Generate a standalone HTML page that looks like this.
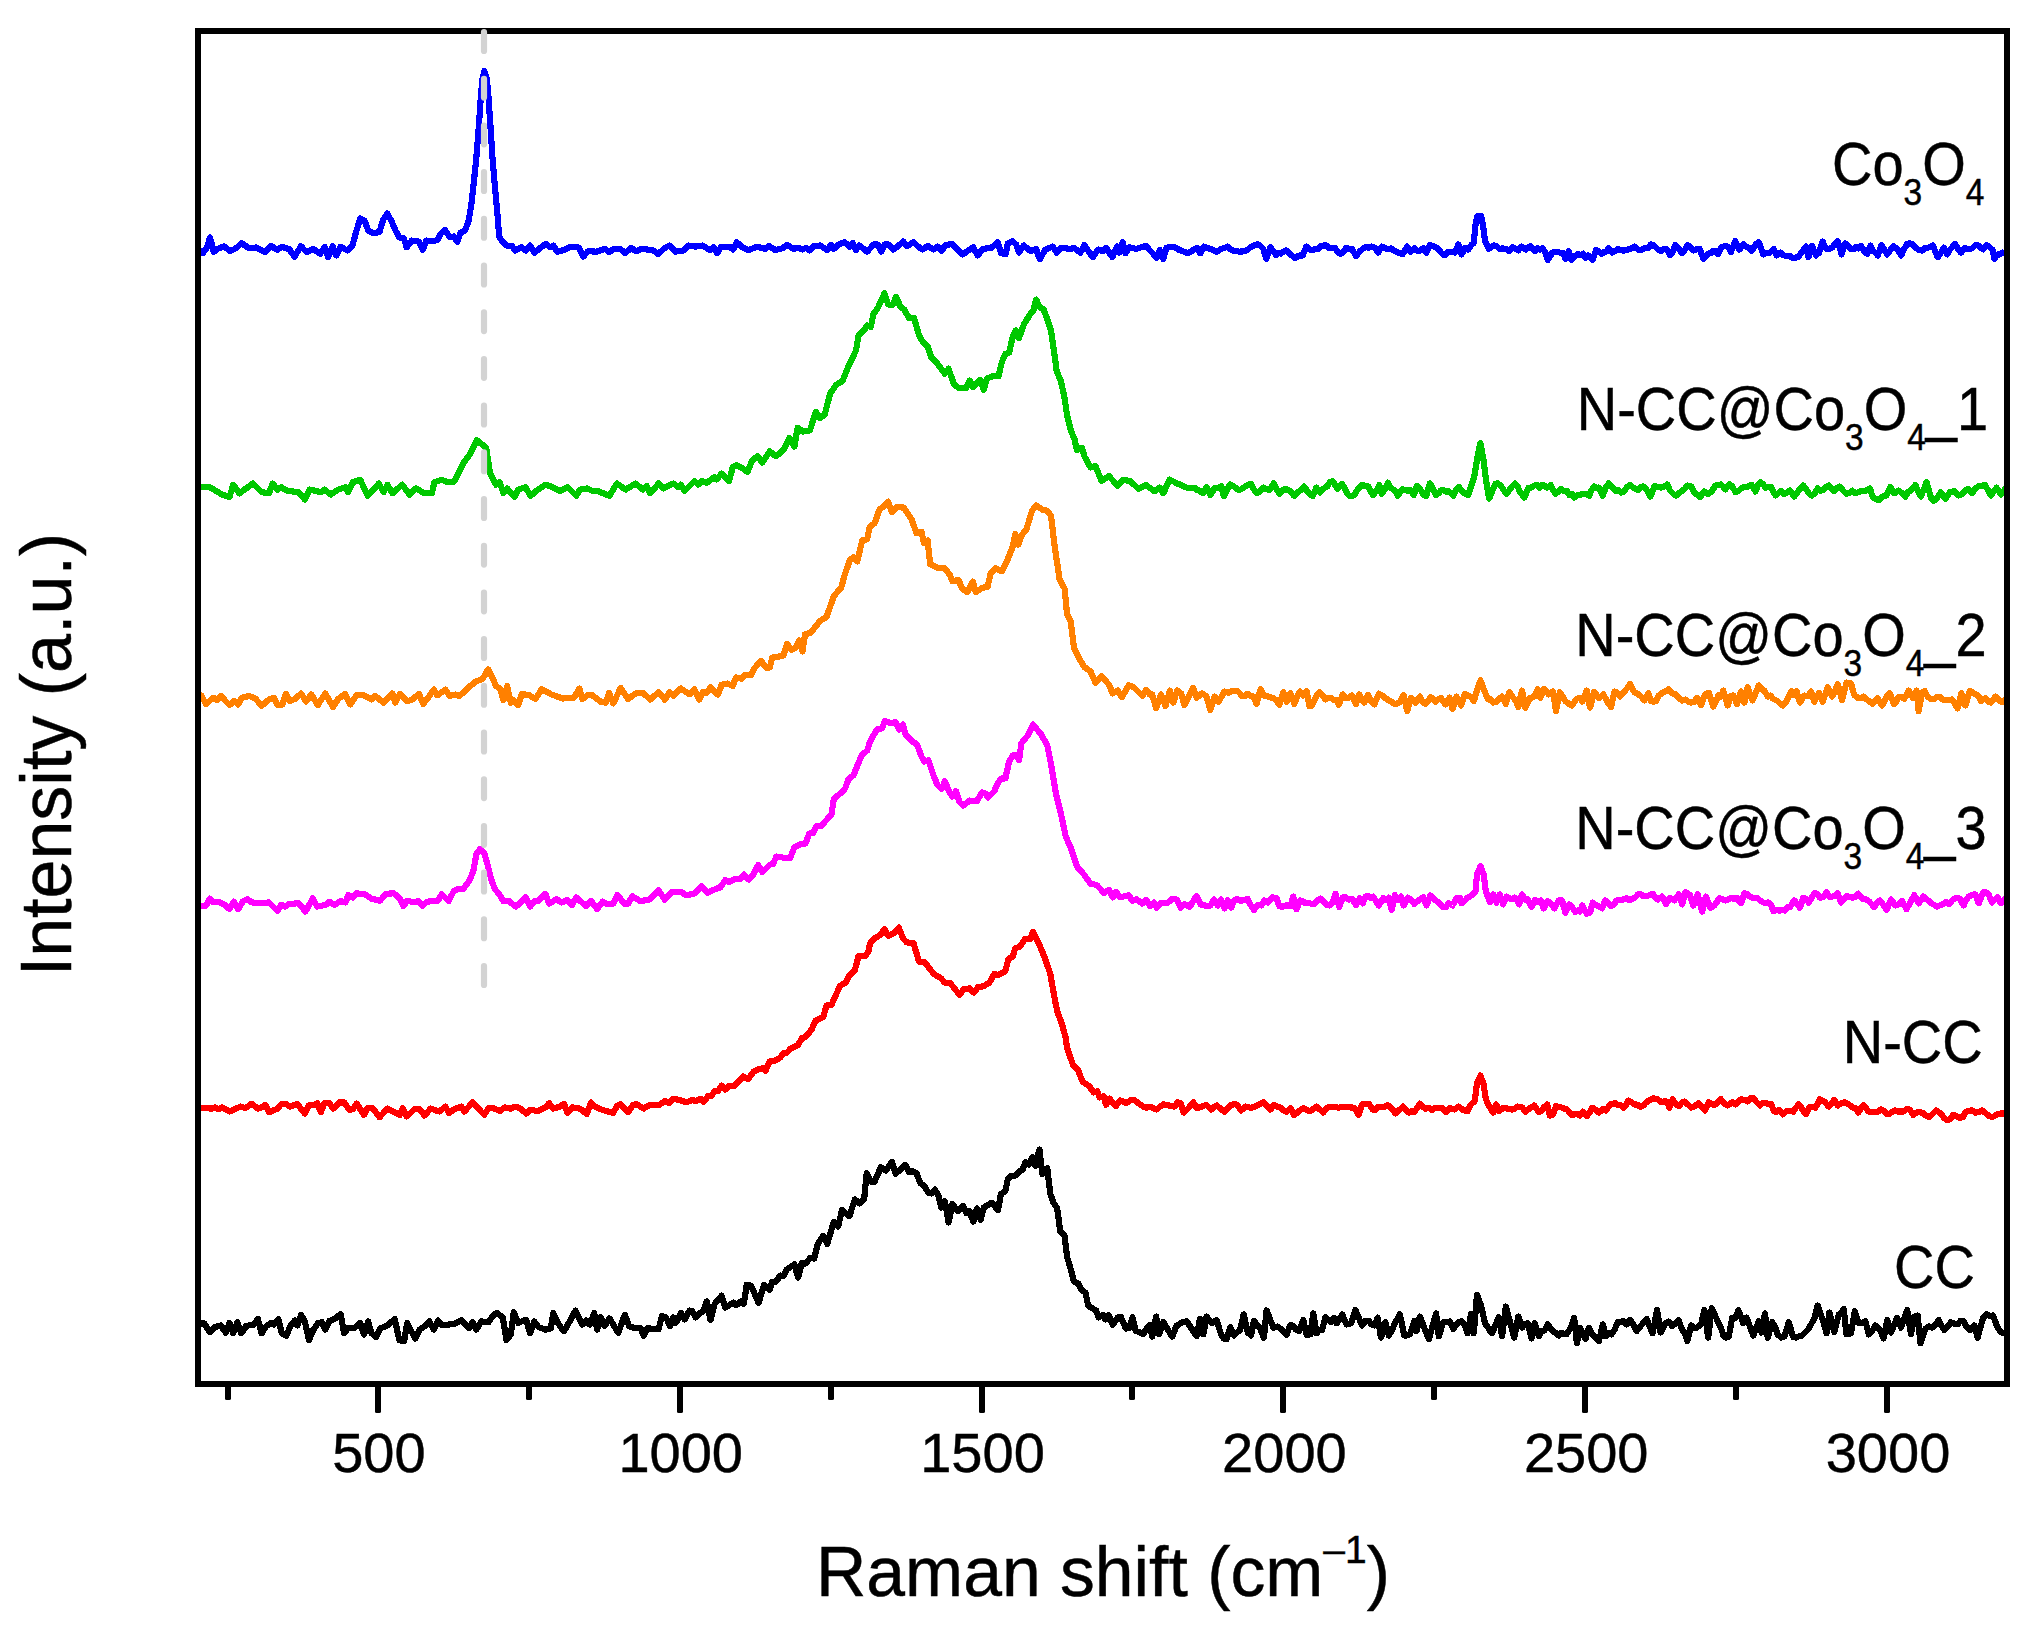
<!DOCTYPE html>
<html><head><meta charset="utf-8"><title>Raman spectra</title>
<style>
html,body{margin:0;padding:0;background:#fff;}
svg{display:block;}
text{font-family:"Liberation Sans",Arial,sans-serif;fill:#000;stroke:#000;stroke-width:0.45px;}
</style></head>
<body>
<svg width="2026" height="1631" viewBox="0 0 2026 1631">
<rect x="0" y="0" width="2026" height="1631" fill="#fff"/>
<g id="curves" shape-rendering="crispEdges">
<polyline points="198.0,1323.4 204.3,1323.4 209.7,1332.0 214.7,1327.1 220.8,1325.4 225.8,1332.8 229.5,1322.9 233.2,1333.3 237.4,1322.2 241.3,1333.3 246.3,1325.9 253.7,1324.6 257.9,1319.0 261.6,1333.3 266.5,1325.9 271.4,1322.9 273.9,1324.6 278.4,1319.0 281.8,1333.3 286.2,1335.7 291.2,1324.6 294.9,1320.4 297.4,1325.4 301.1,1314.8 304.8,1321.4 309.0,1340.2 313.4,1329.6 318.3,1322.9 322.0,1322.2 325.2,1329.6 329.4,1320.9 335.6,1318.5 340.5,1314.0 344.2,1333.3 347.9,1328.3 354.1,1328.3 360.3,1322.9 364.0,1334.5 368.2,1321.4 371.4,1333.3 376.3,1337.0 380.5,1328.3 387.4,1325.4 394.8,1319.0 399.3,1340.2 404.2,1341.2 407.2,1322.9 415.1,1338.7 419.5,1329.6 424.5,1326.4 429.4,1321.4 433.8,1329.6 438.0,1320.4 442.2,1325.4 454.1,1323.9 461.5,1320.4 468.9,1328.3 472.6,1322.2 476.3,1329.6 481.2,1321.4 488.6,1322.2 493.6,1314.8 497.3,1313.0 502.9,1318.0 506.4,1340.2 510.8,1334.5 513.8,1312.3 518.2,1322.9 521.9,1321.4 526.1,1319.7 530.1,1333.3 534.3,1321.4 538.5,1327.1 545.4,1329.6 550.8,1328.3 553.3,1313.0 557.7,1322.9 563.9,1331.3 568.8,1322.9 575.5,1310.6 582.4,1324.6 586.1,1320.4 589.8,1324.6 594.2,1313.0 597.2,1329.6 600.9,1317.2 604.6,1325.9 609.5,1318.5 618.2,1332.8 624.8,1314.8 629.3,1326.4 635.5,1328.3 640.4,1327.8 643.6,1335.7 647.1,1328.3 650.0,1328.5 658.6,1329.3 661.8,1316.2 666.0,1317.4 670.2,1326.1 673.4,1317.4 675.9,1322.9 680.8,1313.0 684.6,1319.4 689.5,1310.5 692.4,1311.3 695.7,1317.4 700.6,1312.5 703.1,1311.3 706.8,1301.4 710.5,1319.9 714.7,1303.9 721.6,1295.7 725.3,1307.6 730.2,1304.6 733.4,1302.6 736.4,1305.1 740.8,1301.4 743.8,1303.9 746.7,1284.9 751.2,1285.8 758.6,1303.1 764.0,1284.9 769.7,1289.8 772.2,1281.6 775.9,1281.6 780.3,1275.5 783.3,1276.0 787.0,1269.3 794.4,1264.4 798.1,1277.5 801.8,1263.1 805.5,1263.6 810.4,1257.7 814.1,1258.7 817.8,1243.9 823.2,1236.0 827.2,1243.9 833.9,1221.7 838.1,1226.6 842.0,1210.1 849.4,1216.2 854.8,1199.5 859.8,1203.4 864.2,1198.5 866.7,1173.1 870.9,1181.7 874.6,1181.7 880.8,1167.4 885.7,1170.6 891.9,1162.0 895.6,1173.8 905.4,1164.9 909.1,1172.3 912.8,1171.3 916.5,1173.1 920.2,1182.9 924.4,1186.1 928.4,1192.8 931.8,1193.5 935.0,1189.6 938.7,1196.5 941.2,1207.6 944.9,1201.4 948.6,1222.4 952.3,1203.9 958.0,1211.3 962.9,1205.9 966.4,1213.3 969.6,1211.3 973.3,1221.7 977.0,1208.4 980.7,1220.0 983.7,1207.6 991.8,1202.7 998.0,1210.1 1000.9,1194.0 1005.4,1191.1 1007.8,1179.2 1010.8,1176.3 1015.3,1175.5 1019.7,1171.3 1022.7,1169.4 1025.6,1162.0 1028.8,1164.4 1032.5,1157.0 1035.5,1165.7 1039.4,1149.6 1042.4,1174.3 1047.3,1168.1 1050.3,1194.0 1053.5,1202.7 1057.2,1208.4 1060.2,1231.1 1064.6,1236.0 1067.1,1257.0 1070.8,1269.3 1074.0,1281.6 1078.2,1283.4 1081.9,1290.3 1085.6,1292.8 1088.1,1305.6 1091.8,1308.1 1096.2,1310.5 1098.7,1317.4 1102.9,1315.0 1105.3,1319.4 1108.5,1315.0 1112.7,1324.8 1117.7,1317.4 1120.9,1316.9 1125.8,1328.5 1129.3,1327.8 1132.5,1317.4 1135.7,1331.0 1139.9,1332.2 1143.1,1334.2 1145.8,1330.0 1148.5,1326.1 1150.0,1324.8 1152.2,1336.6 1156.2,1316.6 1158.9,1334.4 1163.3,1322.2 1172.2,1336.6 1176.6,1325.5 1179.1,1324.4 1181.6,1322.4 1184.1,1321.9 1186.6,1321.1 1196.6,1336.2 1200.0,1318.8 1203.3,1334.4 1206.6,1316.6 1209.4,1320.4 1212.2,1323.3 1216.6,1320.0 1221.1,1334.4 1223.8,1338.5 1226.6,1339.3 1230.4,1327.3 1234.0,1335.5 1237.0,1332.3 1240.0,1330.0 1243.7,1314.4 1247.7,1332.6 1251.1,1335.5 1253.9,1321.1 1256.9,1324.4 1259.9,1327.7 1263.9,1337.7 1266.6,1310.4 1273.3,1327.7 1277.7,1326.6 1280.7,1328.8 1283.6,1332.2 1286.6,1334.8 1289.9,1325.5 1292.9,1325.6 1295.9,1329.7 1298.8,1331.1 1303.3,1320.0 1306.6,1334.8 1310.4,1334.4 1313.3,1313.3 1316.6,1333.3 1319.4,1329.7 1322.1,1330.0 1325.5,1317.1 1328.2,1319.5 1331.0,1321.9 1333.8,1317.8 1336.6,1323.3 1339.4,1319.6 1342.1,1314.4 1346.6,1324.4 1351.0,1323.3 1355.5,1310.0 1362.1,1325.5 1365.5,1320.6 1368.4,1320.6 1371.4,1324.1 1374.3,1325.5 1377.7,1317.7 1381.0,1337.7 1385.4,1322.2 1388.8,1335.5 1392.1,1329.9 1395.4,1322.2 1399.9,1314.4 1404.3,1335.5 1407.1,1335.4 1409.9,1334.4 1414.3,1321.1 1416.5,1331.1 1419.9,1316.6 1428.8,1339.3 1436.1,1313.3 1438.8,1336.2 1443.2,1322.2 1446.5,1322.4 1449.9,1321.5 1453.2,1328.8 1456.2,1324.9 1459.1,1321.7 1462.1,1321.5 1464.9,1325.0 1467.6,1333.3 1471.0,1314.0 1473.8,1333.3 1477.0,1294.9 1481.0,1305.5 1485.0,1323.3 1487.3,1326.5 1489.7,1330.3 1492.1,1333.3 1498.7,1317.1 1502.1,1336.2 1505.8,1306.6 1514.3,1337.7 1518.3,1316.6 1522.0,1327.7 1524.8,1324.1 1527.6,1323.3 1531.6,1338.4 1534.7,1323.3 1538.7,1336.2 1541.7,1331.1 1544.6,1330.3 1547.6,1324.4 1550.4,1328.2 1553.1,1331.4 1555.9,1332.9 1558.7,1335.5 1561.3,1332.8 1563.9,1334.3 1566.5,1334.4 1570.9,1327.7 1574.2,1317.7 1576.9,1343.3 1580.0,1327.7 1582.8,1334.2 1585.5,1338.8 1588.9,1327.7 1592.2,1334.4 1595.5,1337.6 1598.9,1341.1 1602.9,1324.4 1605.5,1336.2 1608.5,1333.4 1611.5,1334.4 1614.4,1330.0 1617.8,1322.2 1620.5,1322.0 1623.3,1321.1 1626.6,1324.4 1630.0,1320.0 1633.3,1324.3 1636.6,1331.1 1641.1,1325.5 1643.9,1322.3 1646.6,1318.8 1652.6,1333.3 1657.1,1310.0 1660.6,1332.6 1663.1,1328.2 1665.5,1323.3 1668.8,1321.6 1672.2,1326.0 1675.3,1323.9 1678.4,1320.0 1682.2,1330.0 1684.7,1332.4 1687.3,1341.1 1691.1,1325.5 1693.8,1327.8 1696.6,1327.7 1701.1,1324.4 1704.4,1310.0 1708.2,1337.7 1711.7,1308.2 1714.2,1313.6 1716.6,1318.8 1721.0,1327.7 1723.6,1336.2 1726.2,1337.6 1728.8,1336.6 1732.2,1317.7 1735.3,1317.8 1738.4,1310.4 1740.8,1316.3 1743.3,1323.3 1746.6,1317.7 1753.3,1335.5 1758.8,1321.1 1761.5,1332.6 1765.0,1313.3 1767.7,1337.7 1772.1,1322.2 1774.9,1326.4 1777.7,1334.4 1781.0,1337.5 1784.3,1336.6 1788.8,1322.2 1793.2,1337.1 1796.2,1337.6 1799.2,1336.2 1802.1,1335.5 1805.5,1332.1 1808.8,1328.8 1811.6,1323.3 1814.3,1318.8 1817.7,1305.5 1822.8,1320.0 1826.6,1333.3 1829.4,1312.6 1834.3,1332.2 1838.8,1314.4 1841.2,1313.8 1843.7,1308.9 1846.5,1334.4 1851.0,1333.3 1854.8,1311.1 1858.8,1323.3 1862.1,1323.1 1865.4,1321.1 1868.8,1334.4 1872.1,1330.9 1875.4,1325.5 1879.9,1329.5 1883.6,1338.4 1887.2,1320.0 1891.0,1332.6 1897.0,1317.7 1901.0,1327.7 1907.2,1310.0 1911.0,1334.4 1914.3,1316.6 1917.6,1315.5 1920.5,1343.3 1925.4,1328.8 1928.7,1326.4 1932.1,1327.7 1935.4,1325.1 1938.7,1320.0 1941.5,1325.7 1944.3,1330.0 1947.6,1326.9 1950.9,1322.2 1954.3,1323.7 1957.6,1324.4 1960.4,1320.9 1963.2,1320.6 1966.5,1326.7 1969.8,1330.0 1974.3,1325.5 1977.6,1337.7 1983.1,1317.7 1986.5,1314.0 1989.8,1316.1 1993.1,1315.5 1997.6,1327.7 2001.4,1332.6 2007.0,1332.6" fill="none" stroke="#000000" stroke-width="6.2" stroke-linejoin="round" stroke-linecap="butt"/>
<polyline points="198.0,1108.1 204.8,1108.1 212.2,1108.6 214.7,1107.4 218.4,1109.1 222.1,1107.4 229.5,1111.5 240.6,1106.6 245.5,1108.1 251.7,1103.7 257.9,1108.6 261.6,1107.4 265.3,1104.9 269.0,1112.3 277.6,1108.6 281.3,1104.1 286.2,1104.1 290.0,1106.6 297.4,1104.1 304.8,1113.5 308.5,1105.6 314.6,1104.9 317.1,1103.2 320.8,1112.3 324.5,1103.2 329.4,1103.2 333.1,1108.6 339.3,1102.4 344.2,1102.4 349.2,1109.8 352.9,1109.1 356.6,1103.7 364.0,1114.8 367.7,1108.1 372.6,1108.1 379.5,1117.2 387.4,1108.6 399.8,1114.8 402.7,1108.1 406.7,1116.5 414.6,1109.1 419.5,1109.1 424.5,1115.5 430.6,1108.6 439.3,1111.5 445.4,1106.6 449.1,1113.0 454.6,1109.1 461.5,1106.6 464.4,1111.5 472.6,1102.4 484.2,1114.8 488.6,1108.1 493.6,1108.1 499.7,1111.1 504.7,1107.4 510.8,1108.6 515.3,1106.6 520.7,1108.6 526.1,1113.5 530.6,1109.8 538.0,1111.1 545.4,1107.4 549.1,1103.2 553.3,1108.6 560.2,1106.6 563.9,1103.7 567.6,1113.0 572.0,1107.4 579.9,1108.6 586.8,1114.0 591.0,1102.4 594.7,1106.6 602.1,1109.8 613.2,1113.0 616.9,1106.1 620.7,1104.1 628.1,1112.3 633.0,1104.9 636.7,1104.1 643.6,1108.6 649.5,1105.1 658.6,1105.3 664.8,1101.1 669.2,1102.9 673.4,1098.7 680.8,1100.4 686.5,1102.4 692.0,1099.9 695.7,1101.1 700.6,1098.7 703.8,1101.9 708.0,1096.2 711.2,1096.2 714.7,1091.3 717.9,1091.3 721.6,1085.6 725.3,1089.5 729.0,1085.6 733.9,1086.3 738.8,1081.4 743.3,1076.5 748.2,1078.9 753.7,1071.5 758.6,1069.1 762.3,1068.3 765.5,1070.8 769.7,1061.6 775.9,1060.4 780.3,1057.5 783.3,1053.5 787.0,1052.5 790.7,1048.6 798.1,1045.1 801.8,1038.2 805.5,1037.0 811.6,1029.6 815.8,1020.4 823.2,1017.2 826.5,1005.6 831.4,1004.9 840.0,985.9 845.5,982.7 848.7,976.5 854.8,970.3 858.5,956.3 864.7,956.3 868.4,951.8 870.1,943.2 874.6,938.3 880.8,934.6 884.5,929.1 888.2,935.8 893.8,933.3 898.8,927.6 903.0,938.3 906.7,942.4 913.6,943.2 919.0,961.7 924.4,961.7 933.8,974.0 941.2,978.5 944.9,982.7 949.9,982.7 959.7,995.0 963.4,989.3 969.6,988.4 973.8,992.5 978.2,986.9 983.2,986.4 989.3,982.7 994.3,974.0 998.0,975.3 1005.4,971.1 1008.3,959.2 1012.8,956.3 1015.3,948.1 1019.7,946.9 1025.1,939.0 1030.1,939.0 1033.0,932.1 1038.7,943.2 1044.9,958.0 1050.3,974.0 1054.7,998.7 1057.2,1011.1 1062.1,1024.6 1065.8,1038.2 1067.1,1048.1 1073.2,1065.4 1078.2,1070.3 1082.4,1081.4 1089.3,1086.3 1093.7,1092.5 1097.2,1091.3 1099.7,1097.4 1103.6,1096.2 1106.1,1104.8 1109.5,1098.7 1115.9,1106.1 1120.1,1100.4 1126.3,1102.9 1131.2,1099.9 1134.9,1100.4 1138.0,1102.9 1141.1,1105.3 1143.6,1106.6 1146.1,1107.8 1150.0,1106.8 1153.3,1108.1 1156.7,1109.5 1160.0,1106.7 1163.3,1104.4 1165.9,1104.9 1168.5,1105.4 1171.1,1106.0 1174.4,1106.6 1177.8,1102.2 1180.6,1103.3 1183.8,1112.6 1186.3,1110.1 1188.9,1107.7 1193.3,1102.2 1196.6,1108.2 1199.1,1107.5 1201.6,1106.7 1204.1,1105.6 1206.6,1105.1 1211.1,1109.5 1213.9,1107.2 1216.6,1105.5 1219.2,1107.4 1221.8,1109.9 1224.4,1111.7 1227.7,1108.6 1231.1,1105.1 1233.6,1104.2 1236.2,1104.4 1238.6,1107.0 1241.1,1110.4 1245.5,1106.6 1248.1,1107.2 1250.7,1107.8 1253.3,1107.3 1256.1,1105.8 1258.8,1104.4 1263.3,1102.2 1265.6,1104.3 1268.0,1107.6 1270.4,1109.5 1273.9,1105.1 1276.3,1105.8 1278.7,1107.3 1281.0,1107.7 1283.8,1110.7 1286.6,1111.7 1290.4,1108.2 1293.9,1114.9 1296.4,1113.4 1298.8,1111.1 1303.3,1108.2 1306.4,1109.7 1309.5,1111.1 1312.8,1109.4 1316.1,1106.6 1318.5,1108.2 1320.9,1110.5 1323.2,1112.6 1326.0,1109.2 1328.8,1106.6 1331.3,1106.7 1333.8,1106.8 1336.3,1107.3 1338.8,1107.7 1343.2,1106.6 1346.0,1106.6 1348.8,1107.3 1351.6,1107.5 1354.3,1107.7 1358.8,1114.9 1362.1,1104.4 1365.5,1104.3 1368.8,1103.7 1372.6,1109.5 1375.4,1109.9 1378.2,1106.8 1381.0,1107.3 1384.3,1107.2 1387.7,1105.1 1390.3,1107.6 1392.8,1109.6 1395.4,1113.3 1398.0,1110.9 1400.6,1108.9 1403.2,1106.6 1406.0,1110.5 1408.8,1112.6 1411.5,1111.3 1414.3,1111.7 1417.1,1107.9 1419.9,1103.7 1422.6,1106.4 1425.4,1108.9 1428.8,1107.7 1432.1,1110.0 1434.9,1107.7 1437.6,1108.2 1442.1,1107.7 1445.9,1112.2 1449.9,1108.2 1454.3,1109.5 1458.7,1106.6 1463.2,1110.0 1467.6,1111.1 1471.0,1104.4 1474.7,1101.1 1477.0,1083.3 1480.5,1075.5 1483.6,1084.4 1485.8,1098.9 1488.7,1105.5 1493.2,1112.6 1496.1,1104.4 1499.2,1111.1 1502.3,1108.5 1505.4,1107.7 1508.7,1109.1 1512.1,1109.5 1514.8,1108.6 1517.6,1106.6 1522.0,1107.3 1525.4,1111.7 1529.8,1108.2 1534.3,1105.5 1538.7,1112.2 1541.2,1110.8 1543.6,1107.7 1547.1,1104.4 1549.8,1115.5 1553.1,1114.4 1556.0,1106.0 1558.5,1107.1 1560.9,1107.3 1563.7,1108.4 1566.5,1108.9 1569.2,1112.0 1572.0,1114.9 1576.5,1114.0 1580.0,1115.5 1582.9,1111.7 1586.7,1116.2 1589.4,1112.9 1592.2,1107.7 1595.5,1109.5 1598.9,1112.6 1603.3,1108.9 1606.0,1110.4 1610.0,1104.4 1612.8,1103.7 1615.5,1103.3 1618.1,1105.1 1620.7,1105.0 1623.3,1107.7 1625.8,1105.2 1628.2,1100.6 1631.3,1101.9 1634.4,1104.4 1637.4,1104.7 1640.3,1106.9 1643.3,1105.5 1646.1,1102.4 1648.9,1100.6 1653.3,1098.4 1657.7,1099.3 1661.1,1102.2 1663.8,1101.4 1666.6,1101.5 1669.5,1107.7 1672.6,1099.3 1675.7,1103.9 1678.8,1106.0 1681.6,1102.9 1684.4,1101.5 1687.7,1104.3 1691.1,1107.7 1693.6,1106.7 1696.2,1105.1 1698.8,1103.3 1701.9,1107.3 1705.1,1110.4 1708.8,1102.2 1711.6,1103.9 1714.4,1105.1 1717.5,1103.0 1720.6,1098.9 1723.9,1103.0 1727.3,1105.5 1729.7,1104.3 1732.2,1102.2 1735.5,1104.4 1738.3,1101.3 1741.0,1099.3 1744.4,1099.8 1747.7,1101.5 1750.5,1098.1 1753.3,1097.7 1756.6,1102.2 1759.9,1105.5 1762.7,1102.7 1765.5,1102.9 1768.2,1104.0 1771.0,1103.7 1773.9,1111.1 1776.4,1112.0 1778.8,1110.0 1782.8,1114.4 1786.6,1111.1 1789.9,1110.6 1793.2,1111.7 1796.0,1107.5 1798.8,1104.4 1801.2,1107.2 1803.5,1111.4 1805.9,1114.0 1809.4,1107.3 1812.4,1106.8 1815.4,1107.7 1819.9,1099.3 1824.3,1101.5 1828.8,1106.6 1831.6,1103.2 1834.3,1100.0 1837.7,1105.5 1841.0,1103.4 1844.3,1102.2 1847.3,1103.7 1850.3,1105.5 1852.9,1107.7 1855.4,1107.7 1858.3,1112.6 1861.0,1108.1 1863.6,1105.1 1866.2,1108.5 1868.8,1111.7 1872.1,1112.2 1875.4,1112.2 1878.2,1111.5 1881.0,1109.5 1883.7,1110.7 1886.5,1114.0 1889.5,1113.7 1892.4,1111.9 1895.4,1110.4 1898.0,1111.6 1900.6,1111.4 1903.2,1111.7 1906.5,1109.3 1909.8,1109.5 1913.2,1114.9 1916.0,1112.8 1918.7,1111.7 1923.2,1113.3 1926.3,1115.8 1929.4,1117.1 1932.7,1113.8 1936.1,1110.4 1938.7,1112.1 1941.4,1114.0 1944.3,1118.4 1947.2,1120.0 1950.2,1119.2 1953.2,1114.9 1956.5,1116.3 1959.8,1117.7 1962.8,1117.1 1965.8,1111.7 1968.7,1111.1 1972.0,1110.2 1975.4,1112.6 1978.7,1112.2 1982.0,1110.4 1984.6,1112.2 1987.1,1114.4 1989.6,1116.2 1992.0,1117.1 1994.8,1115.9 1997.6,1114.0 2000.4,1113.6 2003.1,1113.3 2006.5,1115.5 2007.0,1115.5" fill="none" stroke="#ff0000" stroke-width="6.2" stroke-linejoin="round" stroke-linecap="butt"/>
<polyline points="198.0,905.6 206.0,905.6 209.7,898.7 213.4,902.4 218.4,901.7 224.6,904.9 229.5,909.1 233.9,901.7 238.1,909.1 243.1,901.2 247.3,899.2 251.7,902.4 260.3,903.2 269.0,902.4 273.9,907.4 277.6,910.6 281.3,904.9 285.0,906.6 288.7,904.1 298.6,903.2 305.5,911.5 312.9,898.2 317.1,906.6 325.7,904.9 329.4,901.7 334.4,904.9 340.5,901.2 345.5,902.4 348.4,895.0 352.9,897.5 356.6,893.3 365.2,894.3 371.4,898.7 380.0,900.7 386.2,893.8 393.6,893.3 399.8,898.2 403.5,906.1 407.2,900.7 414.1,902.4 418.3,901.2 422.5,905.6 426.9,901.7 438.0,900.7 441.7,894.3 448.6,901.2 453.6,891.3 457.8,889.3 463.4,888.8 468.9,881.4 473.3,871.6 476.3,854.3 480.0,848.9 484.2,853.1 487.4,864.2 491.1,879.0 494.8,888.8 499.7,895.0 503.4,901.2 508.4,900.7 515.8,906.6 520.7,902.4 525.6,897.5 530.1,906.6 534.3,901.2 538.5,900.7 545.4,893.8 549.1,903.7 556.5,899.2 561.4,902.4 567.6,900.0 572.0,904.9 576.2,897.5 586.1,906.1 591.0,900.7 597.2,909.1 602.6,901.7 607.1,904.1 613.2,903.7 617.4,895.0 624.4,903.7 628.1,903.7 632.3,896.2 640.4,901.2 650.3,899.2 658.6,890.4 664.8,899.8 672.2,891.9 682.1,892.4 685.8,895.3 694.4,893.6 701.8,886.2 707.3,892.9 714.7,889.4 720.3,887.4 725.3,880.0 729.0,882.0 735.1,878.8 740.1,878.8 743.8,874.6 748.7,879.5 753.7,873.9 758.1,865.2 762.3,872.1 769.7,864.7 772.9,864.0 776.4,856.6 784.5,857.8 790.2,857.8 794.4,847.5 800.5,844.2 805.5,843.5 809.2,833.6 812.9,833.1 816.6,826.2 820.8,826.2 831.4,814.6 833.9,798.6 840.0,793.7 845.0,788.7 848.7,778.8 853.6,775.1 858.5,762.8 862.2,754.7 867.2,750.5 870.1,741.3 877.0,729.5 882.0,728.3 884.9,720.8 890.6,723.3 895.6,722.1 899.3,729.5 903.0,724.6 905.4,734.4 912.8,741.8 917.0,744.3 921.5,756.6 924.4,761.6 928.4,760.3 933.8,776.4 937.5,785.0 941.7,788.7 944.9,781.3 949.1,791.2 952.3,796.6 956.0,791.2 959.7,802.3 963.4,805.5 969.6,800.6 977.0,801.1 981.9,792.4 985.6,793.7 988.1,797.4 994.3,791.2 998.0,782.5 1001.7,778.4 1005.4,778.4 1009.1,761.6 1012.8,755.4 1016.5,755.4 1019.0,760.3 1021.4,743.1 1027.6,735.7 1033.0,724.6 1041.2,734.4 1047.3,745.5 1051.0,764.0 1056.0,793.7 1060.9,813.4 1065.8,836.8 1070.8,847.9 1076.9,866.5 1084.4,875.1 1090.5,883.7 1096.7,885.0 1104.1,892.9 1109.0,889.9 1112.7,897.3 1115.9,891.9 1120.1,897.3 1128.8,895.3 1132.5,901.0 1136.2,899.3 1139.3,901.4 1142.3,903.5 1146.1,899.8 1150.0,905.9 1154.0,902.6 1156.7,907.7 1161.1,902.6 1163.9,903.3 1166.7,903.3 1169.4,901.3 1172.2,898.9 1176.6,899.5 1180.6,907.7 1184.4,904.0 1187.0,905.1 1189.5,907.1 1191.9,903.4 1194.3,899.1 1196.6,896.0 1200.6,904.4 1203.6,904.7 1206.6,906.2 1210.4,905.5 1214.0,899.5 1217.7,905.5 1221.1,899.5 1224.4,908.4 1227.7,900.4 1231.1,907.7 1234.4,900.0 1237.4,899.2 1240.3,900.8 1243.3,900.4 1247.7,898.9 1250.8,905.3 1253.9,910.0 1257.7,904.9 1261.5,905.5 1264.4,900.4 1267.7,902.6 1272.2,897.3 1276.6,898.2 1279.3,906.2 1282.4,906.7 1285.5,905.5 1287.9,905.6 1290.4,906.2 1293.3,896.6 1296.6,909.3 1299.9,900.4 1302.7,901.2 1305.5,903.3 1308.1,903.0 1310.7,903.6 1313.3,904.4 1317.7,900.0 1320.5,898.6 1323.2,901.1 1326.6,905.1 1329.9,905.5 1332.6,902.2 1335.5,893.7 1339.2,907.1 1342.8,897.3 1345.8,897.4 1348.8,899.5 1352.1,898.9 1356.1,904.9 1359.9,898.2 1362.8,903.3 1365.5,896.6 1368.0,896.0 1370.6,897.7 1373.2,896.6 1376.0,901.1 1378.8,905.5 1383.2,898.2 1386.0,900.1 1388.8,897.7 1391.7,910.0 1394.8,895.1 1398.3,900.0 1401.0,896.6 1403.7,905.5 1407.7,897.7 1411.0,899.5 1414.3,904.0 1418.8,900.0 1423.2,897.3 1426.5,905.5 1430.3,895.5 1432.9,897.4 1435.4,900.4 1438.0,902.0 1440.6,904.9 1443.2,907.1 1446.0,906.8 1448.7,903.3 1452.5,905.5 1456.5,898.2 1459.9,897.7 1461.4,903.3 1464.5,901.1 1467.6,897.7 1472.1,895.1 1475.4,892.2 1477.0,874.4 1480.5,866.2 1483.6,874.4 1485.8,891.1 1489.8,902.2 1493.2,894.4 1496.5,902.6 1499.8,894.4 1503.2,904.4 1506.5,896.6 1509.3,898.4 1512.1,898.9 1514.5,897.6 1516.9,899.5 1519.2,904.4 1522.0,894.4 1525.4,900.0 1528.0,899.5 1531.6,907.1 1534.7,900.0 1537.8,902.3 1540.9,900.4 1543.6,908.4 1547.6,901.1 1550.9,903.2 1554.3,908.4 1558.7,900.4 1562.0,900.4 1565.4,912.8 1569.4,904.4 1572.4,907.4 1575.4,912.2 1577.7,910.6 1580.0,911.5 1582.2,905.5 1586.7,913.7 1590.0,912.8 1592.7,902.6 1596.7,905.5 1599.4,906.5 1602.2,908.4 1605.1,900.4 1608.1,903.0 1611.1,906.2 1613.9,904.6 1616.6,900.4 1620.0,900.1 1623.3,899.5 1626.6,898.3 1630.0,900.4 1632.4,898.6 1634.9,897.7 1638.0,894.3 1641.1,894.4 1643.9,896.4 1646.6,896.0 1649.6,895.3 1652.6,893.7 1655.2,897.5 1657.7,899.5 1662.2,896.6 1666.0,904.0 1670.0,897.7 1674.4,900.4 1678.8,894.4 1682.2,904.4 1685.5,892.2 1689.9,895.1 1693.3,905.5 1697.7,894.4 1702.2,911.5 1705.9,896.6 1710.4,907.7 1714.4,905.5 1716.8,902.1 1719.3,898.2 1722.4,899.4 1725.5,900.4 1728.8,899.2 1732.2,897.7 1734.6,899.2 1737.0,898.2 1741.0,903.3 1744.4,893.3 1747.1,893.8 1749.9,896.6 1752.4,897.9 1754.8,897.7 1757.4,897.9 1759.9,900.4 1762.7,902.2 1765.5,903.3 1768.2,902.3 1771.0,904.4 1773.2,911.1 1776.6,910.2 1779.9,910.6 1782.4,909.9 1784.9,910.6 1787.4,907.2 1789.9,907.1 1794.3,900.4 1797.1,903.8 1799.9,907.7 1803.2,897.7 1806.0,899.0 1808.8,902.6 1811.6,898.1 1814.3,893.3 1817.1,893.6 1819.9,897.7 1823.2,897.0 1826.6,892.2 1829.3,896.7 1832.1,896.6 1834.9,895.7 1837.7,893.3 1841.0,902.6 1843.8,899.7 1846.5,896.0 1849.3,896.8 1852.1,897.7 1855.2,896.8 1858.3,893.7 1862.8,898.9 1865.8,899.5 1868.8,901.1 1871.5,904.0 1874.3,907.1 1877.1,902.9 1879.9,900.4 1883.2,904.6 1886.5,910.0 1891.0,899.5 1895.4,905.5 1898.7,904.5 1902.1,901.1 1906.5,909.3 1914.3,895.1 1918.7,903.3 1923.2,896.6 1927.6,900.0 1931.0,903.2 1934.3,904.9 1937.2,906.6 1940.2,905.2 1943.2,904.0 1946.1,901.9 1949.1,904.0 1952.1,900.4 1954.6,898.6 1957.2,897.6 1959.8,898.9 1963.6,905.5 1966.2,899.8 1968.7,896.6 1972.0,894.8 1975.4,894.4 1978.7,903.3 1983.1,892.2 1985.9,892.2 1988.7,894.4 1992.0,902.6 1994.8,899.5 1997.6,897.3 2000.9,903.3 2003.7,901.6 2006.5,896.6 2007.0,896.6" fill="none" stroke="#ff00ff" stroke-width="6.2" stroke-linejoin="round" stroke-linecap="butt"/>
<polyline points="198.0,695.3 201.1,695.3 206.0,703.9 213.4,697.7 216.7,700.2 220.8,696.0 229.5,705.1 234.4,700.9 238.1,704.4 241.8,697.7 249.2,696.0 255.4,698.5 261.6,705.9 269.0,699.5 273.9,697.7 277.6,705.1 282.5,704.4 285.8,694.0 290.0,700.9 294.9,699.0 301.1,693.5 306.0,701.4 311.4,694.5 317.8,705.1 325.2,693.5 333.1,706.9 338.1,699.0 345.0,694.0 350.4,704.4 356.6,695.3 364.0,695.3 371.4,699.5 375.1,696.0 383.7,702.7 392.4,693.5 395.3,702.7 399.8,694.0 407.2,701.4 412.1,699.5 419.0,694.0 423.2,703.9 428.2,697.7 433.8,689.6 437.3,695.3 445.4,689.6 449.6,696.0 455.3,694.5 459.5,696.0 468.9,687.1 476.3,681.2 482.4,679.2 488.1,669.4 492.3,677.3 496.0,686.1 500.5,689.1 503.4,700.2 507.1,686.1 510.8,702.7 513.8,700.2 518.2,705.1 521.9,694.0 529.3,695.3 535.5,699.0 541.7,689.1 551.5,694.5 562.7,698.5 573.8,697.7 579.4,688.6 582.4,699.0 587.3,695.3 592.3,695.3 600.9,701.9 605.8,702.7 609.1,692.8 613.2,703.4 620.7,687.9 628.1,699.0 635.5,693.5 642.9,692.8 650.3,699.5 658.6,692.2 664.8,699.6 669.7,692.2 673.4,695.9 680.8,688.5 689.5,694.2 694.4,689.3 699.4,699.6 703.1,691.7 706.8,692.7 710.5,687.3 717.9,694.7 721.6,684.8 727.7,683.6 732.7,686.1 735.9,677.4 741.3,678.7 745.0,675.0 751.2,675.0 754.9,667.6 761.1,660.9 766.0,667.6 769.7,667.6 772.2,657.7 783.3,655.7 787.0,644.1 791.9,649.8 795.6,647.8 799.3,640.4 802.5,651.5 805.0,634.2 810.4,633.0 820.3,620.7 826.5,617.0 833.9,596.0 841.3,587.4 845.0,573.8 849.9,560.2 853.6,557.0 857.3,561.4 862.2,540.5 867.2,539.2 869.6,526.9 874.6,523.2 879.5,509.6 884.5,505.9 888.2,501.7 891.9,512.1 896.8,507.1 903.7,507.6 911.6,519.5 916.5,533.1 921.5,531.8 923.9,542.9 927.6,540.5 930.1,563.9 937.5,567.6 944.9,568.4 949.9,575.0 952.3,581.2 958.5,580.0 962.2,588.6 967.1,592.3 972.8,581.7 975.8,592.3 981.9,588.1 987.6,586.6 990.6,573.8 995.5,568.4 1001.7,571.3 1007.8,559.0 1012.8,546.6 1015.3,533.8 1018.2,544.7 1021.4,535.5 1026.4,529.4 1032.0,510.8 1036.2,505.4 1042.4,509.6 1047.3,510.8 1051.0,515.8 1054.7,546.6 1059.7,580.0 1064.6,588.6 1067.1,614.5 1070.8,621.9 1074.0,647.8 1079.4,658.9 1084.4,667.1 1090.5,671.3 1095.5,682.9 1101.6,676.2 1109.0,684.8 1112.7,693.5 1117.7,690.5 1121.9,697.2 1128.8,685.3 1133.7,687.3 1136.6,690.2 1139.5,693.0 1142.3,695.9 1146.1,689.8 1150.0,694.7 1152.2,694.4 1156.2,708.4 1158.7,701.2 1161.1,694.4 1165.5,706.2 1170.0,690.6 1173.3,702.6 1177.1,690.6 1181.1,693.3 1184.4,704.9 1188.9,696.6 1193.3,687.7 1196.6,697.7 1199.4,695.5 1202.2,693.3 1206.6,696.6 1210.4,710.0 1214.4,696.6 1218.8,701.7 1221.6,696.4 1224.4,691.5 1228.8,692.9 1232.2,690.6 1235.0,691.2 1237.7,691.1 1242.2,696.0 1244.9,696.3 1247.7,693.7 1250.5,696.0 1253.3,696.6 1256.6,704.0 1260.6,689.3 1264.4,696.0 1267.2,696.2 1269.9,697.3 1272.7,698.0 1275.5,699.5 1279.3,704.9 1283.3,692.2 1286.6,701.7 1290.4,693.3 1294.4,704.0 1297.1,696.8 1299.9,691.5 1303.3,695.5 1306.6,691.1 1309.5,706.2 1311.9,705.8 1314.4,700.0 1317.1,694.3 1319.9,692.2 1322.7,695.9 1325.5,699.5 1328.2,697.8 1331.0,698.2 1333.6,699.7 1336.2,700.0 1338.8,704.9 1342.8,694.4 1345.2,697.5 1347.7,698.2 1352.1,695.5 1356.1,704.0 1359.2,694.4 1361.8,699.3 1364.3,702.6 1368.1,695.1 1371.2,701.0 1374.3,704.4 1378.8,693.7 1382.1,695.3 1385.4,698.2 1388.4,700.1 1391.4,701.6 1394.3,704.0 1397.1,703.6 1399.9,702.2 1403.7,695.1 1407.2,711.1 1411.0,697.7 1415.4,702.6 1419.9,696.6 1422.6,702.1 1425.4,704.0 1427.9,701.5 1430.3,697.3 1432.9,698.3 1435.4,701.7 1438.2,699.4 1441.0,698.2 1445.4,704.4 1449.4,697.7 1452.5,708.8 1456.5,696.6 1461.0,705.5 1465.0,693.7 1468.7,696.0 1471.3,696.8 1473.8,701.1 1477.0,690.6 1480.5,680.4 1484.3,690.6 1488.1,699.5 1490.6,699.4 1493.2,702.6 1495.9,702.0 1498.7,698.9 1502.1,696.6 1505.8,704.0 1509.4,692.2 1513.2,697.7 1515.7,700.5 1518.3,707.1 1522.0,690.6 1525.4,707.7 1529.8,698.2 1534.3,696.6 1537.6,689.3 1540.5,697.7 1543.6,688.9 1546.1,691.2 1548.7,694.4 1553.1,691.5 1556.0,711.1 1559.8,692.2 1562.6,696.4 1565.4,701.1 1568.7,703.7 1572.0,705.5 1576.5,698.9 1580.0,697.7 1582.2,701.7 1586.7,690.6 1590.0,707.7 1594.0,692.2 1596.4,694.6 1598.9,698.2 1603.3,694.4 1607.8,702.6 1611.1,707.1 1614.4,691.5 1617.2,692.6 1620.0,696.6 1624.4,691.5 1627.2,688.3 1630.0,684.0 1634.4,692.2 1637.7,693.7 1641.1,696.6 1644.4,700.4 1648.2,693.3 1651.1,701.1 1654.0,701.7 1656.4,700.8 1658.8,695.5 1662.2,693.1 1665.5,691.1 1668.8,689.2 1672.2,693.3 1675.5,694.1 1678.8,698.2 1682.2,700.6 1685.5,699.5 1688.3,701.5 1691.1,702.6 1694.1,702.0 1697.1,697.7 1701.1,704.9 1705.1,694.4 1708.8,692.9 1713.3,706.6 1715.8,701.2 1718.4,695.5 1720.8,696.7 1723.3,690.6 1727.7,705.5 1730.5,696.1 1733.3,695.5 1737.0,704.0 1741.0,691.5 1744.4,702.6 1747.7,687.1 1750.1,694.5 1752.6,700.4 1758.8,685.5 1761.6,689.1 1764.4,690.6 1767.7,696.6 1770.5,695.6 1773.2,698.9 1777.7,701.1 1780.2,703.7 1782.8,705.5 1785.8,702.5 1788.8,696.6 1791.4,691.1 1794.0,695.2 1796.6,691.5 1799.9,702.6 1804.3,695.5 1807.7,696.4 1811.0,691.5 1814.3,701.7 1818.8,692.9 1822.8,701.7 1827.7,687.1 1832.1,696.6 1834.9,691.0 1837.7,684.0 1842.1,700.0 1846.5,682.6 1851.0,683.3 1854.3,695.1 1858.3,698.2 1860.8,698.2 1863.2,696.6 1867.6,700.0 1870.1,701.9 1872.5,704.0 1875.1,700.7 1877.6,698.2 1882.1,705.5 1886.5,696.6 1889.9,693.3 1893.9,704.0 1896.3,701.5 1898.7,696.6 1901.5,696.8 1904.3,698.9 1908.7,690.6 1913.2,698.2 1916.5,690.6 1918.7,711.1 1922.1,692.2 1924.8,691.1 1927.6,696.6 1931.0,699.0 1934.3,698.9 1937.1,696.7 1939.8,696.6 1942.6,699.3 1945.4,700.4 1948.7,699.9 1952.1,699.5 1954.8,703.7 1957.6,708.4 1961.4,693.3 1965.4,705.5 1969.8,691.1 1972.6,692.4 1975.4,694.4 1978.2,695.6 1980.9,701.1 1985.4,698.2 1988.1,701.7 1990.9,702.6 1995.4,696.6 1998.1,698.7 2000.9,701.7 2003.7,702.0 2006.5,697.7 2007.0,697.7" fill="none" stroke="#ff8000" stroke-width="6.2" stroke-linejoin="round" stroke-linecap="butt"/>
<polyline points="198.0,487.2 209.7,487.2 222.1,494.6 229.5,497.0 233.2,484.7 239.4,493.3 252.9,483.5 261.6,492.1 269.0,493.3 272.7,483.5 277.6,489.6 281.3,487.2 287.5,490.9 298.6,492.1 304.8,499.5 309.7,489.6 320.8,492.1 324.5,489.6 330.7,494.6 338.1,489.6 345.5,487.2 347.9,492.1 352.9,482.2 360.3,479.8 367.7,495.8 378.8,483.5 383.7,492.1 387.4,484.7 392.4,493.3 402.2,484.7 409.6,494.6 415.8,488.4 424.5,493.3 431.9,493.3 434.3,482.2 441.7,479.8 446.7,481.7 454.1,481.7 463.9,462.5 470.1,453.9 476.8,440.3 486.2,447.7 489.9,472.4 496.0,484.7 499.7,482.2 503.4,493.3 507.1,488.4 514.5,497.0 518.2,489.6 525.6,487.2 530.6,495.8 538.0,489.6 545.4,484.7 552.8,487.2 560.2,490.9 567.6,487.2 576.2,495.8 579.9,489.6 587.3,488.4 592.3,490.9 597.2,490.9 609.5,495.8 616.9,483.5 625.6,489.6 635.5,483.5 642.9,489.6 646.6,485.9 650.3,493.3 658.6,483.5 663.6,488.4 673.4,483.5 678.4,487.2 680.8,484.7 684.6,490.9 694.4,481.0 698.1,484.7 701.8,481.0 706.8,482.7 714.2,477.3 716.6,479.3 721.6,473.6 729.0,481.0 732.7,467.4 736.4,465.0 742.5,468.2 747.5,471.9 752.4,460.0 757.4,456.3 762.3,462.5 769.7,451.4 775.9,456.3 783.3,450.2 789.4,437.8 794.4,446.5 797.6,427.9 803.0,431.6 809.9,430.4 815.8,411.9 820.3,418.1 824.7,414.4 830.2,393.4 836.3,384.8 842.5,381.1 847.4,368.7 856.1,350.2 858.5,335.4 864.7,329.2 867.2,325.5 870.9,326.8 873.3,314.4 878.3,307.0 884.5,293.4 888.2,304.6 893.1,304.6 896.1,296.7 900.5,307.0 904.2,309.5 909.1,318.1 914.1,318.1 919.0,335.4 922.7,341.6 927.6,346.5 931.3,357.6 937.5,363.8 944.9,373.7 948.6,368.7 953.6,383.5 958.5,388.0 965.9,388.0 969.6,380.6 973.3,387.2 980.2,379.8 983.7,389.7 986.9,378.6 993.0,376.1 998.5,376.1 1001.7,362.5 1005.4,353.9 1009.1,352.7 1012.8,336.6 1015.7,330.5 1019.0,337.9 1023.9,324.3 1030.1,314.4 1033.3,310.7 1036.2,299.6 1039.4,307.0 1043.6,309.5 1047.3,319.4 1051.0,330.5 1054.7,356.4 1056.7,371.2 1060.9,381.1 1064.6,398.3 1067.1,415.6 1070.8,430.4 1074.5,439.1 1076.9,450.2 1081.9,447.7 1084.4,456.3 1090.5,467.4 1095.5,466.2 1101.6,481.0 1109.0,476.1 1117.7,485.9 1122.6,479.8 1130.0,481.0 1138.6,488.8 1141.1,487.6 1143.6,486.4 1146.0,485.1 1148.9,487.2 1151.8,489.3 1154.7,491.3 1157.1,489.7 1159.6,487.6 1163.3,493.3 1166.4,486.6 1169.5,479.5 1172.6,481.0 1175.7,482.7 1178.4,484.0 1181.2,485.1 1184.0,486.4 1186.8,487.6 1189.2,488.1 1191.7,487.7 1194.2,487.6 1197.0,489.8 1199.9,491.0 1202.8,493.3 1206.5,486.9 1210.2,495.0 1212.7,491.4 1215.1,487.6 1218.2,488.3 1221.3,486.4 1223.8,496.2 1226.9,490.0 1230.0,484.4 1232.8,485.8 1235.7,487.8 1238.6,490.1 1241.1,489.4 1243.5,487.6 1246.0,486.1 1248.5,484.5 1250.9,483.9 1254.0,489.5 1257.1,493.3 1260.2,491.0 1263.3,487.6 1266.4,489.0 1269.4,490.1 1273.9,483.4 1276.6,489.2 1279.3,493.8 1281.8,491.1 1284.2,489.3 1287.3,489.6 1290.4,491.3 1294.1,495.8 1296.6,493.3 1299.1,491.3 1301.5,489.5 1304.0,486.4 1306.9,490.6 1309.7,493.5 1312.6,496.2 1316.3,487.6 1320.0,492.5 1322.5,489.6 1325.0,487.7 1327.4,486.4 1330.1,481.7 1332.9,481.4 1337.3,488.8 1341.7,483.9 1344.5,487.7 1347.2,493.8 1349.6,495.8 1352.1,495.8 1354.6,494.6 1357.0,490.4 1359.5,487.2 1362.0,485.1 1365.1,485.8 1368.2,486.4 1370.6,491.1 1373.1,495.0 1376.2,491.0 1379.3,485.1 1381.7,493.8 1384.8,489.2 1387.9,482.7 1390.4,487.3 1392.8,489.3 1395.3,491.1 1397.8,495.8 1400.2,491.9 1402.7,489.3 1405.2,489.9 1407.6,490.7 1410.1,490.1 1413.8,495.0 1417.0,485.9 1420.1,488.7 1423.1,494.4 1426.2,496.2 1429.9,483.4 1432.9,488.7 1436.0,495.0 1438.5,493.3 1441.0,490.3 1443.4,490.1 1445.9,491.7 1448.4,491.3 1450.8,493.2 1453.3,495.8 1456.1,490.0 1459.0,487.1 1463.2,492.5 1465.6,493.7 1468.1,495.0 1474.3,476.5 1477.5,456.8 1480.4,443.2 1483.4,459.2 1485.9,479.0 1489.1,498.7 1495.3,483.9 1497.7,483.4 1500.2,485.1 1503.3,489.5 1506.4,493.8 1509.2,490.2 1512.1,486.5 1515.0,483.4 1517.5,486.1 1519.9,491.8 1524.4,497.5 1528.6,487.6 1531.4,487.6 1534.3,485.5 1537.2,485.1 1539.7,487.8 1542.1,485.1 1544.6,485.7 1547.1,487.6 1550.8,485.1 1553.2,490.4 1555.7,493.8 1558.2,491.6 1560.7,488.8 1563.7,491.0 1566.8,490.8 1569.3,495.1 1571.8,493.7 1574.2,497.5 1576.7,495.4 1579.2,495.3 1581.6,494.3 1584.1,493.9 1586.6,494.4 1589.0,495.8 1591.5,490.2 1594.0,486.4 1596.4,488.4 1598.9,487.6 1602.6,495.8 1605.7,487.5 1608.8,483.4 1611.2,486.4 1613.7,488.8 1616.2,491.2 1618.6,490.2 1621.1,492.5 1624.1,491.4 1627.0,486.9 1630.0,485.1 1632.8,487.2 1635.5,488.9 1638.0,490.0 1640.5,487.1 1643.0,486.4 1645.5,488.4 1648.0,491.9 1650.4,496.6 1654.4,486.2 1657.7,486.9 1661.1,487.7 1664.4,486.6 1667.2,484.5 1670.0,490.6 1673.1,493.7 1676.2,495.5 1679.2,493.1 1682.2,490.6 1684.7,488.8 1687.3,485.5 1691.1,486.2 1694.8,493.3 1697.4,494.7 1699.9,497.3 1704.4,491.5 1707.7,494.0 1711.0,492.2 1715.5,485.5 1718.3,485.1 1721.0,484.4 1725.5,489.3 1729.5,484.0 1732.5,486.8 1735.5,492.2 1738.8,490.6 1742.1,487.7 1744.9,486.8 1747.7,486.6 1751.7,484.9 1755.5,491.5 1758.0,485.3 1760.6,482.2 1763.0,484.1 1765.5,487.7 1768.2,487.1 1771.0,487.1 1775.5,495.5 1778.2,493.3 1781.0,491.1 1783.8,493.9 1786.6,492.9 1789.9,490.6 1794.3,496.6 1798.8,490.6 1803.2,485.5 1806.6,490.0 1809.3,494.0 1812.1,495.5 1814.9,493.0 1817.7,488.4 1820.4,490.6 1823.2,490.0 1826.0,486.7 1828.8,485.5 1831.6,488.6 1834.3,491.1 1837.1,487.6 1839.9,486.6 1843.2,490.8 1846.5,493.7 1849.3,493.0 1852.1,490.6 1855.4,493.1 1858.8,492.2 1861.5,490.9 1864.3,491.1 1867.1,490.1 1869.9,488.4 1872.6,496.6 1875.4,498.9 1878.8,500.0 1882.1,496.6 1886.5,495.5 1890.3,487.1 1894.3,493.3 1898.7,490.6 1902.1,493.1 1905.4,496.6 1908.2,491.8 1911.0,490.6 1915.4,484.9 1918.2,491.4 1921.0,496.6 1926.5,482.2 1931.0,497.7 1933.7,500.9 1936.5,498.9 1940.9,492.2 1945.4,498.9 1949.8,492.2 1954.3,491.1 1958.7,495.5 1961.7,494.3 1964.6,491.5 1967.6,488.9 1972.0,493.3 1975.4,488.7 1978.7,486.2 1981.8,486.1 1984.9,484.9 1987.9,490.0 1990.9,495.5 1993.7,491.4 1996.5,487.7 2000.9,494.4 2003.7,491.2 2006.5,486.6 2007.0,486.6" fill="none" stroke="#00c800" stroke-width="6.2" stroke-linejoin="round" stroke-linecap="butt"/>
<polyline points="198.1,249.3 203.1,253.0 207.3,246.8 210.0,237.4 213.7,251.7 217.9,248.8 224.0,246.3 230.2,251.2 236.4,248.0 241.3,243.1 248.7,248.0 256.1,247.5 264.8,252.2 270.9,245.8 277.1,249.8 282.0,246.8 289.4,249.3 294.4,256.7 301.0,246.3 306.7,252.2 312.9,248.8 320.3,253.7 324.7,246.8 328.2,257.2 332.6,246.3 336.3,255.4 340.5,246.8 347.4,250.5 352.4,245.6 356.1,232.0 360.3,218.4 364.7,220.9 368.4,230.8 373.3,233.2 379.5,232.0 383.2,219.6 387.4,213.5 391.9,222.1 395.6,230.8 399.3,237.4 403.7,238.2 406.7,247.3 411.6,240.6 418.5,241.4 422.7,249.8 426.4,240.6 432.6,241.4 437.5,239.9 441.2,233.2 444.9,230.0 449.9,237.4 454.0,236.4 457.3,241.9 460.5,232.5 464.7,230.8 468.4,222.1 471.3,204.8 473.8,182.6 476.3,157.9 478.7,128.3 480.7,98.7 482.4,79.0 484.4,71.1 486.9,79.0 488.6,98.7 490.6,128.3 492.5,157.9 495.0,187.6 497.5,214.7 499.2,236.9 502.9,241.9 506.6,245.6 511.5,245.6 515.3,250.5 521.4,247.3 525.6,250.5 530.1,245.6 534.5,253.0 539.9,248.0 546.1,243.8 549.8,247.3 553.5,245.6 557.2,251.7 564.6,249.8 570.8,246.8 578.9,247.5 583.1,256.7 588.1,251.2 596.7,251.7 605.3,248.8 609.0,252.2 614.0,248.8 620.1,248.8 625.1,253.0 631.2,248.0 636.2,251.2 641.1,248.8 650.0,249.8 653.2,250.4 658.3,254.0 664.3,248.2 669.4,245.5 675.4,251.7 683.8,250.4 688.2,245.5 696.0,246.6 702.7,245.5 710.0,250.4 713.8,247.3 717.1,253.3 721.1,246.6 730.5,247.3 733.1,249.5 736.7,242.2 742.7,247.3 748.2,250.4 757.1,246.6 764.9,248.9 768.7,246.0 775.3,250.0 782.6,248.2 787.1,245.1 793.8,248.9 798.2,247.7 802.6,249.5 806.0,247.7 809.3,250.4 813.7,246.0 820.4,245.5 827.1,250.0 830.9,245.1 833.7,248.9 838.8,244.4 844.8,242.2 849.3,246.6 852.6,242.9 856.0,250.0 859.3,245.5 867.1,251.7 873.7,244.4 877.5,244.4 881.1,251.7 884.8,244.4 888.2,244.4 893.0,249.5 897.5,246.6 903.3,241.5 907.0,246.0 913.7,242.2 918.1,246.6 922.6,249.5 927.7,246.0 933.7,249.5 937.5,246.6 941.5,251.1 945.0,245.5 952.3,243.7 957.2,249.5 962.8,254.4 968.3,250.4 973.2,247.3 977.6,255.5 982.8,248.9 991.6,247.7 997.6,242.2 1001.2,253.3 1005.6,254.0 1007.9,243.3 1012.3,241.1 1016.1,244.4 1019.0,252.6 1023.8,245.5 1030.5,251.1 1036.1,248.9 1039.8,259.3 1045.0,250.0 1052.7,246.6 1056.7,252.6 1061.2,247.7 1069.4,248.9 1074.5,248.2 1080.5,252.6 1084.3,245.1 1092.7,257.1 1098.3,249.5 1102.7,251.1 1106.0,247.7 1112.3,257.1 1117.1,246.6 1119.4,252.6 1122.7,242.2 1125.6,253.3 1129.4,247.3 1136.0,248.9 1138.5,248.2 1141.0,247.4 1143.5,246.7 1146.0,246.0 1149.3,249.7 1152.7,253.3 1156.7,257.7 1159.8,250.0 1163.3,258.8 1166.5,247.7 1169.8,247.2 1173.1,246.6 1176.2,248.1 1179.3,250.0 1182.3,251.0 1185.3,252.3 1188.2,253.3 1191.2,251.4 1194.1,249.4 1197.1,247.7 1200.4,253.3 1203.8,246.6 1207.1,247.9 1210.4,248.9 1213.5,250.1 1216.7,251.7 1219.1,250.2 1221.5,248.9 1224.6,247.8 1227.8,246.6 1230.8,249.4 1233.8,251.1 1236.5,251.0 1239.3,251.7 1242.1,251.5 1244.9,251.1 1247.6,249.7 1250.4,247.3 1252.8,246.1 1255.2,244.9 1257.5,244.4 1260.4,245.9 1263.3,248.9 1266.4,258.8 1270.4,247.3 1273.2,251.0 1276.0,254.9 1278.5,252.9 1281.0,253.5 1283.5,251.5 1286.0,250.4 1289.3,253.2 1292.6,256.2 1295.1,258.3 1297.6,256.4 1300.1,255.5 1302.6,255.5 1306.4,246.6 1309.5,249.5 1312.6,250.4 1315.4,249.0 1318.2,248.8 1320.9,245.9 1323.7,245.5 1326.5,245.6 1329.3,248.2 1332.0,248.4 1334.8,247.7 1337.6,252.0 1340.4,254.0 1343.2,252.2 1345.9,248.2 1349.0,248.7 1352.1,248.9 1355.9,256.2 1359.3,252.0 1362.6,248.9 1365.5,247.1 1368.5,247.7 1371.5,246.6 1374.8,247.6 1378.1,252.6 1381.9,246.6 1385.0,248.2 1388.0,249.0 1390.9,248.5 1393.9,250.4 1398.3,252.6 1402.8,254.0 1407.2,246.6 1410.5,251.7 1414.5,248.2 1417.0,250.8 1419.4,251.1 1423.4,248.2 1426.5,252.6 1430.1,245.1 1433.1,246.2 1436.1,247.3 1438.5,249.1 1441.0,252.4 1443.4,254.9 1445.8,254.6 1448.2,251.8 1450.5,251.7 1455.0,252.6 1458.3,244.4 1461.6,254.4 1465.0,247.7 1468.3,249.5 1471.1,245.2 1473.8,242.9 1475.4,225.5 1477.2,216.2 1481.2,216.2 1483.4,227.8 1485.0,241.1 1488.7,248.9 1491.3,246.6 1493.8,245.5 1496.6,246.2 1499.4,248.9 1502.7,248.4 1506.1,248.9 1509.4,251.1 1512.7,247.3 1515.5,248.7 1518.3,250.4 1521.6,246.6 1526.0,249.5 1530.5,246.0 1532.9,249.0 1535.4,251.1 1537.8,248.2 1540.3,249.6 1542.7,248.2 1545.3,252.5 1547.8,260.0 1552.3,252.6 1554.9,252.1 1557.5,252.2 1560.1,252.6 1562.7,252.6 1565.6,258.8 1568.7,251.1 1571.6,260.0 1574.9,256.1 1578.2,254.0 1580.7,255.2 1583.2,253.7 1585.7,257.9 1588.2,255.5 1592.7,260.0 1596.0,250.0 1598.8,251.5 1601.6,254.0 1603.9,252.2 1606.3,251.4 1608.7,248.2 1612.2,252.6 1615.2,251.0 1618.2,248.9 1620.8,250.2 1623.4,250.6 1626.0,250.0 1629.0,249.3 1631.9,248.2 1634.9,246.6 1638.9,250.4 1641.9,249.6 1644.9,248.2 1647.8,248.4 1650.8,244.4 1653.8,245.5 1658.2,249.5 1660.9,251.1 1663.7,249.2 1666.4,248.9 1670.0,254.9 1672.6,252.0 1675.3,245.1 1678.6,248.8 1682.0,253.3 1684.9,249.6 1687.7,245.1 1690.7,247.5 1693.7,250.4 1696.7,249.3 1699.7,248.9 1703.3,258.8 1705.6,256.6 1708.0,253.6 1710.3,253.4 1712.6,251.1 1715.4,250.9 1718.2,254.0 1721.5,247.3 1724.8,246.1 1728.2,246.6 1730.8,252.2 1735.3,241.1 1739.3,249.5 1743.7,244.4 1746.3,247.0 1748.9,247.7 1751.5,251.1 1753.9,247.3 1756.4,243.6 1758.8,242.2 1763.3,254.4 1766.3,253.2 1769.3,253.3 1773.7,248.9 1776.6,255.5 1780.4,252.6 1783.7,255.3 1787.0,256.2 1789.6,255.8 1792.2,257.6 1794.8,257.7 1798.1,257.2 1801.5,252.6 1805.9,246.6 1808.6,257.1 1812.1,246.0 1815.9,255.5 1819.2,252.6 1822.6,241.5 1825.0,246.6 1827.2,249.4 1829.7,248.8 1832.2,247.7 1835.0,243.5 1837.8,241.1 1841.6,254.4 1845.0,243.3 1847.8,245.2 1850.5,249.0 1853.3,249.4 1855.9,246.9 1858.5,248.5 1861.1,246.1 1864.1,251.2 1867.2,253.9 1870.5,245.5 1872.9,250.7 1875.3,252.5 1877.7,255.5 1881.6,245.0 1884.4,249.7 1887.2,254.4 1890.2,250.2 1893.3,246.1 1895.9,248.0 1898.5,250.7 1901.1,255.5 1904.1,249.1 1907.2,243.9 1909.6,243.3 1912.0,243.9 1914.4,246.6 1917.0,248.6 1919.6,250.3 1922.2,250.5 1924.8,248.2 1927.4,248.0 1930.1,246.8 1932.7,245.5 1935.2,250.9 1937.7,257.2 1940.8,252.9 1943.8,247.7 1947.2,254.4 1949.7,249.7 1952.3,247.2 1954.9,243.9 1958.0,248.9 1961.0,252.7 1964.4,248.3 1967.0,248.7 1969.6,249.3 1972.1,248.3 1975.5,245.0 1978.1,245.4 1980.7,247.9 1983.3,249.4 1986.6,245.0 1989.6,247.2 1992.7,250.0 1994.4,258.8 1997.1,254.5 1999.9,254.4 2002.3,252.6 2004.7,253.4 2007.0,253.4" fill="none" stroke="#0000ff" stroke-width="6.2" stroke-linejoin="round" stroke-linecap="butt"/>
</g>
<rect x="198" y="31" width="1809" height="1353" fill="none" stroke="#000" stroke-width="6"/>
<g fill="#000">
<rect x="225.0" y="1384" width="6" height="16.0" rx="1.6"/>
<rect x="375.0" y="1384" width="6" height="29.0" rx="1.6"/>
<rect x="526.0" y="1384" width="6" height="16.0" rx="1.6"/>
<rect x="677.0" y="1384" width="6" height="29.0" rx="1.6"/>
<rect x="828.0" y="1384" width="6" height="16.0" rx="1.6"/>
<rect x="979.0" y="1384" width="6" height="29.0" rx="1.6"/>
<rect x="1129.0" y="1384" width="6" height="16.0" rx="1.6"/>
<rect x="1280.0" y="1384" width="6" height="29.0" rx="1.6"/>
<rect x="1431.0" y="1384" width="6" height="16.0" rx="1.6"/>
<rect x="1582.0" y="1384" width="6" height="29.0" rx="1.6"/>
<rect x="1733.0" y="1384" width="6" height="16.0" rx="1.6"/>
<rect x="1884.0" y="1384" width="6" height="29.0" rx="1.6"/>
</g>
<line x1="484" y1="32.1" x2="484" y2="985" stroke="#d3d3d3" stroke-width="6.2" stroke-linecap="round" stroke-dasharray="18.8 27.9"/>
<g font-size="56"><text x="378.9" y="1471.8" text-anchor="middle">500</text><text x="680.7" y="1471.8" text-anchor="middle">1000</text><text x="982.5" y="1471.8" text-anchor="middle">1500</text><text x="1284.4" y="1471.8" text-anchor="middle">2000</text><text x="1586.2" y="1471.8" text-anchor="middle">2500</text><text x="1888.0" y="1471.8" text-anchor="middle">3000</text></g>
<g font-size="56">
<text transform="translate(1832.0,184.8) scale(1,1.08)">Co<tspan dy="18.6" font-size="33.5">3</tspan><tspan dy="-18.6">O</tspan><tspan dy="18.6" font-size="33.5">4</tspan></text>
<text transform="translate(1576.7,430.0) scale(1,1.08)">N-CC@Co<tspan dy="18.6" font-size="33.5">3</tspan><tspan dy="-18.6">O</tspan><tspan dy="18.6" font-size="33.5">4</tspan><tspan dy="-18.6">_1</tspan></text>
<text transform="translate(1575.2,656.0) scale(1,1.08)">N-CC@Co<tspan dy="18.6" font-size="33.5">3</tspan><tspan dy="-18.6">O</tspan><tspan dy="18.6" font-size="33.5">4</tspan><tspan dy="-18.6">_2</tspan></text>
<text transform="translate(1575.2,848.5) scale(1,1.08)">N-CC@Co<tspan dy="18.6" font-size="33.5">3</tspan><tspan dy="-18.6">O</tspan><tspan dy="18.6" font-size="33.5">4</tspan><tspan dy="-18.6">_3</tspan></text>
<text transform="translate(1842.8,1063.2) scale(1,1.08)">N-CC</text>
<text transform="translate(1894.0,1287.8) scale(1,1.08)">CC</text>
</g>
<text transform="translate(816,1595.8)" font-size="69.7">Raman shift (cm<tspan dy="-33" font-size="39">–1</tspan><tspan dy="33">)</tspan></text>
<text transform="translate(71.3,976.3) rotate(-90) scale(1,1.03)" font-size="70">Intensity (a.u.)</text>
</svg>
</body></html>
